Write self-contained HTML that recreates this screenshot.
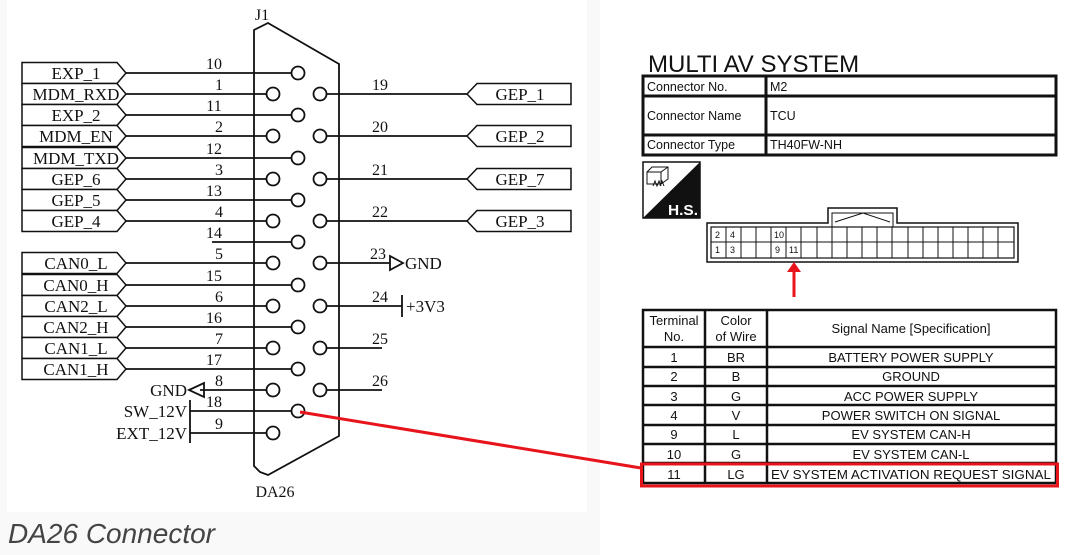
<!DOCTYPE html>
<html><head><meta charset="utf-8"><style>
html,body{margin:0;padding:0;background:#f9f9f9;}
svg{display:block}
.s{font-family:"Liberation Serif",serif;font-size:17px;fill:#111}
.n{font-family:"Liberation Serif",serif;font-size:16px;fill:#111}
.a{font-family:"Liberation Sans",sans-serif;fill:#111}
</style></head><body>
<svg width="1065" height="555" viewBox="0 0 1065 555" xmlns="http://www.w3.org/2000/svg">
<rect x="7" y="0" width="580" height="512" fill="#fff"/>
<rect x="600" y="0" width="465" height="555" fill="#fff"/>
<path d="M254,38 L254,30 L268,23 L339,64 L339,436 L268,475 L260,472 L254,466 Z" fill="none" stroke="#111" stroke-width="1.8"/>
<text x="262" y="20" class="n" text-anchor="middle">J1</text>
<text x="275" y="497" class="n" text-anchor="middle">DA26</text>
<g stroke="#111" stroke-width="1.5" fill="#fff">
<polygon points="22,62.5 117,62.5 126,73 117,83.5 22,83.5"/>
<polygon points="22,83.5 117,83.5 126,94 117,104.5 22,104.5"/>
<polygon points="22,104.5 117,104.5 126,115 117,125.5 22,125.5"/>
<polygon points="22,125.5 117,125.5 126,136 117,146.5 22,146.5"/>
<polygon points="22,147.5 117,147.5 126,158 117,168.5 22,168.5"/>
<polygon points="22,168.5 117,168.5 126,179 117,189.5 22,189.5"/>
<polygon points="22,189.5 117,189.5 126,200 117,210.5 22,210.5"/>
<polygon points="22,210.5 117,210.5 126,221 117,231.5 22,231.5"/>
<polygon points="22,252.5 117,252.5 126,263 117,273.5 22,273.5"/>
<polygon points="22,274.5 117,274.5 126,285 117,295.5 22,295.5"/>
<polygon points="22,295.5 117,295.5 126,306 117,316.5 22,316.5"/>
<polygon points="22,316.5 117,316.5 126,327 117,337.5 22,337.5"/>
<polygon points="22,337.5 117,337.5 126,348 117,358.5 22,358.5"/>
<polygon points="22,358.5 117,358.5 126,369 117,379.5 22,379.5"/>
<polygon points="467,94 477,83.5 571,83.5 571,104.5 477,104.5"/>
<polygon points="467,136 477,125.5 571,125.5 571,146.5 477,146.5"/>
<polygon points="467,179 477,168.5 571,168.5 571,189.5 477,189.5"/>
<polygon points="467,221 477,210.5 571,210.5 571,231.5 477,231.5"/>
</g>
<g stroke="#111" stroke-width="1.8" fill="none">
<line x1="126" y1="73" x2="298" y2="73"/>
<line x1="126" y1="94" x2="273" y2="94"/>
<line x1="126" y1="115" x2="298" y2="115"/>
<line x1="126" y1="136" x2="273" y2="136"/>
<line x1="126" y1="158" x2="298" y2="158"/>
<line x1="126" y1="179" x2="273" y2="179"/>
<line x1="126" y1="200" x2="298" y2="200"/>
<line x1="126" y1="221" x2="273" y2="221"/>
<line x1="212" y1="242" x2="298" y2="242"/>
<line x1="126" y1="263" x2="273" y2="263"/>
<line x1="126" y1="285" x2="298" y2="285"/>
<line x1="126" y1="306" x2="273" y2="306"/>
<line x1="126" y1="327" x2="298" y2="327"/>
<line x1="126" y1="348" x2="273" y2="348"/>
<line x1="126" y1="369" x2="298" y2="369"/>
<line x1="200" y1="390" x2="273" y2="390"/>
<polygon points="189,390 204,383 204,397"/>
<line x1="190" y1="411" x2="298" y2="411"/>
<line x1="190" y1="433" x2="273" y2="433"/>
<line x1="190" y1="400" x2="190" y2="443"/>
<line x1="320" y1="94" x2="467" y2="94"/>
<line x1="320" y1="136" x2="467" y2="136"/>
<line x1="320" y1="179" x2="467" y2="179"/>
<line x1="320" y1="221" x2="467" y2="221"/>
<line x1="320" y1="263" x2="390" y2="263"/>
<polygon points="403,263 390,256 390,270"/>
<line x1="320" y1="306" x2="402" y2="306"/>
<line x1="402" y1="295" x2="402" y2="317"/>
<line x1="320" y1="348" x2="382" y2="348"/>
<line x1="320" y1="390" x2="382" y2="390"/>
</g>
<g stroke="#111" stroke-width="1.8" fill="#fff">
<circle cx="298" cy="73" r="6.5"/><circle cx="273" cy="94" r="6.5"/><circle cx="298" cy="115" r="6.5"/>
<circle cx="273" cy="136" r="6.5"/><circle cx="298" cy="158" r="6.5"/><circle cx="273" cy="179" r="6.5"/>
<circle cx="298" cy="200" r="6.5"/><circle cx="273" cy="221" r="6.5"/><circle cx="298" cy="242" r="6.5"/>
<circle cx="273" cy="263" r="6.5"/><circle cx="298" cy="285" r="6.5"/><circle cx="273" cy="306" r="6.5"/>
<circle cx="298" cy="327" r="6.5"/><circle cx="273" cy="348" r="6.5"/><circle cx="298" cy="369" r="6.5"/>
<circle cx="273" cy="390" r="6.5"/><circle cx="298" cy="411" r="6.5"/><circle cx="273" cy="433" r="6.5"/>
<circle cx="320" cy="94" r="6.5"/><circle cx="320" cy="136" r="6.5"/><circle cx="320" cy="179" r="6.5"/>
<circle cx="320" cy="221" r="6.5"/><circle cx="320" cy="263" r="6.5"/><circle cx="320" cy="306" r="6.5"/>
<circle cx="320" cy="348" r="6.5"/><circle cx="320" cy="390" r="6.5"/>
</g>
<g class="s" text-anchor="middle">
<text x="76" y="79">EXP_1</text><text x="76" y="100">MDM_RXD</text><text x="76" y="121">EXP_2</text>
<text x="76" y="142">MDM_EN</text><text x="76" y="164">MDM_TXD</text><text x="76" y="185">GEP_6</text>
<text x="76" y="206">GEP_5</text><text x="76" y="227">GEP_4</text>
<text x="76" y="269">CAN0_L</text><text x="76" y="291">CAN0_H</text><text x="76" y="312">CAN2_L</text>
<text x="76" y="333">CAN2_H</text><text x="76" y="354">CAN1_L</text><text x="76" y="375">CAN1_H</text>
<text x="520" y="100">GEP_1</text><text x="520" y="142">GEP_2</text><text x="520" y="185">GEP_7</text><text x="520" y="227">GEP_3</text>
</g>
<g class="s" text-anchor="end">
<text x="187" y="396">GND</text><text x="187" y="417">SW_12V</text><text x="187" y="439">EXT_12V</text>
</g>
<text x="405" y="269" class="s">GND</text>
<text x="406" y="312" class="s">+3V3</text>
<g class="n" text-anchor="middle">
<text x="214" y="69">10</text><text x="219" y="90">1</text><text x="214" y="111">11</text><text x="219" y="132">2</text>
<text x="214" y="154">12</text><text x="219" y="175">3</text><text x="214" y="196">13</text><text x="219" y="217">4</text>
<text x="214" y="238">14</text><text x="219" y="259">5</text><text x="214" y="281">15</text><text x="219" y="302">6</text>
<text x="214" y="323">16</text><text x="219" y="344">7</text><text x="214" y="365">17</text><text x="219" y="386">8</text>
<text x="214" y="407">18</text><text x="219" y="429">9</text>
<text x="380" y="90">19</text><text x="380" y="132">20</text><text x="380" y="175">21</text><text x="380" y="217">22</text>
<text x="378" y="259">23</text><text x="380" y="302">24</text><text x="380" y="344">25</text><text x="380" y="386">26</text>
</g>
<text x="8" y="543" font-family="'Liberation Sans',sans-serif" font-style="italic" font-size="28" fill="#444">DA26 Connector</text>

<text x="648" y="72" class="a" font-size="24">MULTI AV SYSTEM</text>
<g fill="none" stroke="#111">
<rect x="643" y="76" width="413" height="79" stroke-width="3"/>
<line x1="643" y1="96" x2="1056" y2="96" stroke-width="3"/>
<line x1="643" y1="135" x2="1056" y2="135" stroke-width="3"/>
<line x1="766" y1="76" x2="766" y2="155" stroke-width="3"/>
</g>
<g class="a" font-size="12.5">
<text x="647" y="91">Connector No.</text><text x="770" y="91">M2</text>
<text x="647" y="120">Connector Name</text><text x="770" y="120">TCU</text>
<text x="647" y="149">Connector Type</text><text x="770" y="149">TH40FW-NH</text>
</g>
<rect x="643" y="162" width="57" height="56" fill="#fff" stroke="#111" stroke-width="1.5"/>
<polygon points="700,162 700,218 643,218" fill="#111"/>
<g fill="none" stroke="#111" stroke-width="1">
<rect x="647" y="172" width="14" height="12"/>
<path d="M647,172 L652,167 L668,167 L668,179 L661,184 M661,172 L668,167"/>
<path d="M653,186 l2,-5 l2,5 l2,-5 l2,5 M660,186 l2,-5 l2,5"/>
</g>
<text x="668" y="215" class="a" font-size="15" font-weight="bold" style="fill:#fff" textLength="30" lengthAdjust="spacingAndGlyphs">H.S.</text>
<g fill="none" stroke="#111">
<path d="M707,223 L828,223 L828,208 L897,208 L897,223 L1018,223 L1018,262 L707,262 Z" stroke-width="1.5"/>
<rect x="711" y="227" width="303" height="31" stroke-width="1.2"/>
<rect x="832" y="213" width="61" height="14" stroke-width="1"/>
<polyline points="835,222 863,213 890,222" stroke-width="1"/>
<line x1="711" y1="242" x2="1014" y2="242" stroke-width="1"/>
<path d="M726,227v31M741,227v31M756,227v31M771,227v31M786,227v31M801,227v31M817,227v31M832,227v31M847,227v31M862,227v31M877,227v31M892,227v31M908,227v31M923,227v31M938,227v31M953,227v31M968,227v31M983,227v31M998,227v31" stroke-width="1"/>
</g>
<g class="a" font-size="9">
<text x="715" y="238">2</text><text x="730" y="238">4</text><text x="774" y="238">10</text>
<text x="715" y="253">1</text><text x="730" y="253">3</text><text x="775" y="253">9</text><text x="789" y="253">11</text>
</g>
<line x1="794" y1="297" x2="794" y2="270" stroke="#e8141c" stroke-width="3"/>
<polygon points="794,262 787,272 801,272" fill="#e8141c"/>
<g fill="none" stroke="#111">
<rect x="643" y="310" width="413" height="173" stroke-width="2.5"/>
<line x1="705" y1="310" x2="705" y2="483" stroke-width="2.5"/>
<line x1="767" y1="310" x2="767" y2="483" stroke-width="2.5"/>
<path d="M643,347H1056M643,367H1056M643,386H1056M643,405H1056M643,425H1056M643,444H1056M643,463H1056" stroke-width="2.5"/>
</g>
<g class="a" font-size="13" text-anchor="middle">
<text x="674" y="325">Terminal</text><text x="674" y="341">No.</text>
<text x="736" y="325">Color</text><text x="736" y="341">of Wire</text>
<text x="911" y="333">Signal Name [Specification]</text>
<text x="674" y="362">1</text><text x="736" y="362">BR</text><text x="911" y="362">BATTERY POWER SUPPLY</text>
<text x="674" y="381">2</text><text x="736" y="381">B</text><text x="911" y="381">GROUND</text>
<text x="674" y="401">3</text><text x="736" y="401">G</text><text x="911" y="401">ACC POWER SUPPLY</text>
<text x="674" y="420">4</text><text x="736" y="420">V</text><text x="911" y="420">POWER SWITCH ON SIGNAL</text>
<text x="674" y="439">9</text><text x="736" y="439">L</text><text x="911" y="439">EV SYSTEM CAN-H</text>
<text x="674" y="459">10</text><text x="736" y="459">G</text><text x="911" y="459">EV SYSTEM CAN-L</text>
<text x="674" y="479">11</text><text x="736" y="479">LG</text><text x="911" y="479" textLength="280" lengthAdjust="spacingAndGlyphs">EV SYSTEM ACTIVATION REQUEST SIGNAL</text>
</g>
<rect x="641.5" y="464" width="416" height="22" fill="none" stroke="#e8141c" stroke-width="3"/>
<line x1="300" y1="412" x2="641" y2="468" stroke="#e8141c" stroke-width="3"/>
</svg>
</body></html>
